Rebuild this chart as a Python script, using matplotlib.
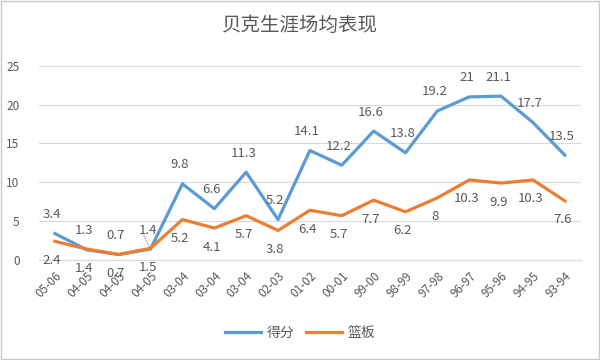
import matplotlib
matplotlib.use("Agg")
import matplotlib.pyplot as plt
from matplotlib.patches import Rectangle

plt.rcParams['font.family'] = ['Noto Sans CJK SC', 'DejaVu Sans']

seasons = ['05-06', '04-05', '04-05', '04-05', '03-04', '03-04', '03-04', '02-03', '01-02',
           '00-01', '99-00', '98-99', '97-98', '96-97', '95-96', '94-95', '93-94']
points = [3.4, 1.3, 0.7, 1.4, 9.8, 6.6, 11.3, 5.2, 14.1, 12.2, 16.6, 13.8, 19.2, 21, 21.1, 17.7, 13.5]
rebounds = [2.4, 1.4, 0.7, 1.5, 5.2, 4.1, 5.7, 3.8, 6.4, 5.7, 7.7, 6.2, 8, 10.3, 9.9, 10.3, 7.6]

blue = '#5B9BD5'
orange = '#ED7D31'
grey = '#595959'

fig = plt.figure(figsize=(6, 3.6), dpi=100)
ax = fig.add_axes([0.065, 0.278, 0.903, 0.539])

x = list(range(len(seasons)))
ax.plot(x, points, color=blue, lw=2.3, label='得分', zorder=3)
ax.plot(x, rebounds, color=orange, lw=2.3, label='篮板', zorder=3)

for i in x:
    ax.annotate(f'{points[i]:g}', (i, points[i]), xytext=(-2, 9), textcoords='offset points',
                ha='center', va='bottom', fontsize=9.5, color=grey)
    ax.annotate(f'{rebounds[i]:g}', (i, rebounds[i]), xytext=(-2, -9), textcoords='offset points',
                ha='center', va='top', fontsize=9.5, color=grey)

# small leader line near the crowded 04-05 point
ax.annotate('', (3, points[3]), xytext=(-6, 12), textcoords='offset points',
            arrowprops=dict(arrowstyle='-', color='#A6A6A6', lw=0.6))

ax.set_xlim(-0.5, len(seasons) - 0.5)
ax.set_ylim(0, 25)
ax.set_yticks([0, 5, 10, 15, 20, 25])
ax.set_xticks(x)
ax.set_xticklabels(seasons, rotation=45, ha='right', rotation_mode='anchor')
ax.tick_params(axis='both', length=0, labelsize=8.5, labelcolor=grey)
ax.tick_params(axis='x', pad=7)
ax.tick_params(axis='y', pad=14)
ax.grid(axis='y', color='#D9D9D9', lw=0.8)
ax.set_axisbelow(True)
for s in ['top', 'right', 'left']:
    ax.spines[s].set_visible(False)
ax.spines['bottom'].set_color('#D9D9D9')

fig.text(0.5, 0.93, '贝克生涯场均表现', ha='center', va='center', fontsize=14, color=grey)
fig.legend(loc='center', bbox_to_anchor=(0.5, 0.075), ncol=2, frameon=False, fontsize=10,
           labelcolor=grey, handlelength=2.6, columnspacing=0.8, handletextpad=0.4)

fig.add_artist(Rectangle((0.002, 0.003), 0.996, 0.994, transform=fig.transFigure,
                         fill=False, edgecolor='#C8C8C8', lw=1))

fig.savefig('out.png', dpi=100)
